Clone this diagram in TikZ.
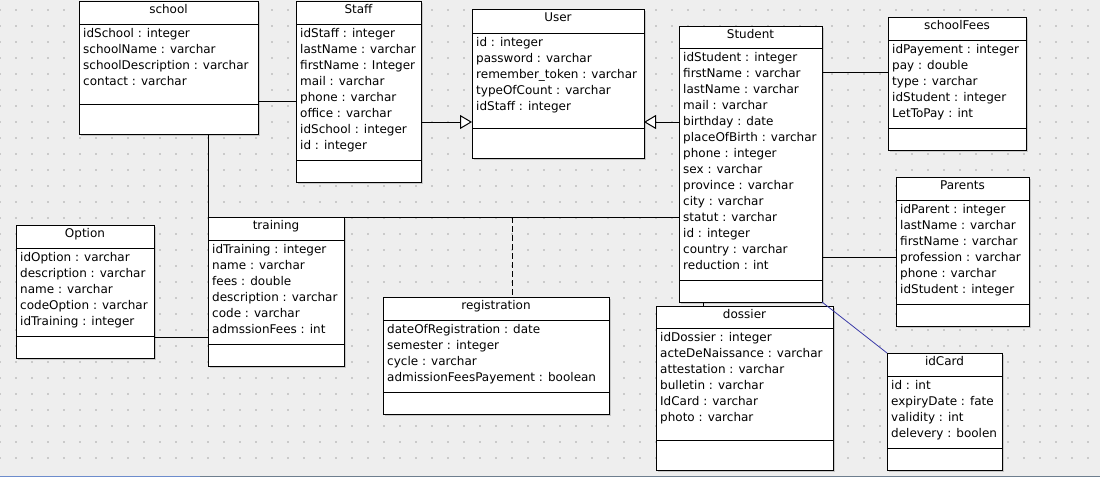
\documentclass[tikz,border=0pt]{standalone}
\usepackage{fontspec}
\setmainfont{DejaVu Sans}
\usetikzlibrary{arrows.meta,calc}
\definecolor{bgc}{HTML}{EEEEEE}
\definecolor{dotc}{HTML}{CACACA}
\definecolor{shadc}{HTML}{C8C8C8}
\definecolor{cardc}{HTML}{3A3AA8}
\definecolor{barblue}{HTML}{6C8CCC}
\definecolor{bargrey}{HTML}{6E7E8E}
\tikzset{
  classbox/.style={draw=black, fill=white, line width=1pt, inner sep=0pt, outer sep=0pt, anchor=north west},
  classtitle/.style={anchor=base, inner sep=0pt, font=\fontsize{12}{16}\selectfont},
  classattr/.style={anchor=base west, inner sep=0pt, font=\fontsize{12}{16}\selectfont},
  sepline/.style={line width=1pt},
  assocline/.style={line width=1pt},
  genline/.style={line width=1pt, -{Triangle[length=12pt,width=14pt,fill=white]}},
  cardline/.style={line width=0.8pt, draw=cardc},
  dashline/.style={line width=1pt, dash pattern=on 6pt off 3pt},
}
\newcommand\umlclass[9]{%
  \fill[shadc] ({#2+2},{#3+2}) rectangle ({#4+2},{#5+2});
  \node[classbox, minimum width={#4-#2}, minimum height={#5-#3}] (#1) at (#2,#3) {};
  \draw[sepline] (#1.west |- 0,#6) -- (#1.east |- 0,#6);
  \draw[sepline] (#1.west |- 0,#7) -- (#1.east |- 0,#7);
  \node[classtitle] at ({(#2+#4)/2},{#3+12.5}) {#8};
  \foreach \attr [count=\n] in {#9} {\node[classattr] at ({#2+4},{#6+13.5+16*(\n-1)}) {\attr};}
}
\begin{document}
\begin{tikzpicture}[x=1pt,y=-1pt]
\useasboundingbox (0,0) rectangle (1100,477);
\fill[bgc] (0,0) rectangle (1100,477);
\foreach \gx in {0,16,...,1100} {\foreach \gy in {10,26,...,470} {\fill[dotc] ({\gx-0.75},{\gy-0.75}) rectangle ++(1.5,1.5);}}
\draw[line width=1pt, barblue] (0,476.5) -- (200,476.5);
\draw[line width=1pt, bargrey] (200,476.5) -- (1100,476.5);

\umlclass{school}{79}{1}{258}{134}{24}{104}{school}{idSchool : integer, schoolName : varchar, schoolDescription : varchar, contact : varchar}
\umlclass{Staff}{296}{1}{421}{182}{24}{160}{Staff}{idStaff : integer, lastName : varchar, firstName : Integer, mail : varchar, phone : varchar, office : varchar, idSchool : integer, id : integer}
\umlclass{User}{472}{9}{644}{158}{33}{128}{User}{id : integer, password : varchar, remember\_token : varchar, typeOfCount : varchar, idStaff : integer}
\umlclass{Student}{679}{26}{822}{302}{48}{280}{Student}{idStudent : integer, firstName : varchar, lastName : varchar, mail : varchar, birthday : date, placeOfBirth : varchar, phone : integer, sex : varchar, province : varchar, city : varchar, statut : varchar, id : integer, country : varchar, reduction : int}
\umlclass{schoolFees}{888}{17}{1026}{150}{40}{128}{schoolFees}{idPayement : integer, pay : double, type : varchar, idStudent : integer, LetToPay : int}
\umlclass{Parents}{896}{177}{1029}{326}{200}{304}{Parents}{idParent : integer, lastName : varchar, firstName : varchar, profession : varchar, phone : varchar, idStudent : integer}
\umlclass{Option}{16}{225}{154}{358}{248}{336}{Option}{idOption : varchar, description : varchar, name : varchar, codeOption : varchar, idTraining : integer}
\umlclass{training}{208}{217}{344}{366}{240}{344}{training}{idTraining : integer, name : varchar, fees : double, description : varchar, code : varchar, admssionFees : int}
\umlclass{registration}{383}{297}{609}{414}{320}{392}{registration}{dateOfRegistration : date, semester : integer, cycle : varchar, admissionFeesPayement : boolean}
\umlclass{dossier}{656}{306}{833}{470}{328}{440}{dossier}{idDossier : integer, acteDeNaissance : varchar, attestation : varchar, bulletin : varchar, IdCard : varchar, photo : varchar}
\umlclass{idCard}{887}{353}{1002}{470}{376}{448}{idCard}{id : int, expiryDate : fate, validity : int, delevery : boolen}

\draw[assocline] (school.east |- 0,101) -- (Staff.west |- 0,101);
\draw[genline] (Staff.east |- 0,122) -- (User.west |- 0,122);
\draw[genline] (Student.west |- 0,122) -- (User.east |- 0,122);
\draw[assocline] (Student.east |- 0,72) -- (schoolFees.west |- 0,72);
\draw[assocline] (Student.east |- 0,257) -- (Parents.west |- 0,257);
\draw[cardline] (Student.south east) -- (idCard.north west);
\draw[assocline] (Student.south -| 703,0) -- (dossier.north -| 703,0);
\draw[assocline] (school.south -| training.west) -- (training.north west);
\draw[assocline] (training.north east) -- (Student.west |- training.north);
\coordinate (regjoin) at (512,217);
\draw[dashline] (regjoin) -- (registration.north -| regjoin);
\draw[assocline] (Option.east |- 0,337) -- (training.west |- 0,337);
\end{tikzpicture}
\end{document}
